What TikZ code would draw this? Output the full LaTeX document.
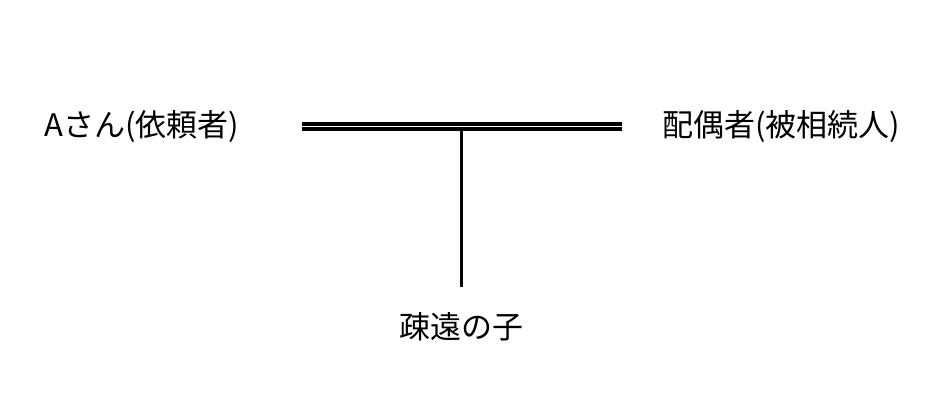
\documentclass[tikz,border=0pt]{standalone}
\usepackage{fontspec}
\setmainfont{Noto Sans CJK JP}
\usepackage{tikz}
\usetikzlibrary{calc}

\begin{document}
\begin{tikzpicture}[x=1pt,y=1pt,
    person/.style={font=\fontsize{31}{31}\selectfont,inner sep=0pt},
    marriage/.style={double,double distance=1.5pt,line width=3.5pt},
    descent/.style={line width=3pt}]
                \useasboundingbox (0,0) rectangle (951,402);
                \node[person] (client) at (142,275) {Aさん(依頼者)};
                \node[person] (spouse) at (781,275) {配偶者(被相続人)};
                \node[person] (child) at (461,75) {疎遠の子};

                \coordinate (mleft) at (302,275.6);
                \coordinate (mright) at (622,275.6);
                \coordinate (mmid) at (461.5,272);
                \coordinate (ctop) at (461.5,115);

                \draw[marriage] (mleft)--(mright);
                \draw[descent] (mmid)--(ctop);
            \end{tikzpicture}
\end{document}
